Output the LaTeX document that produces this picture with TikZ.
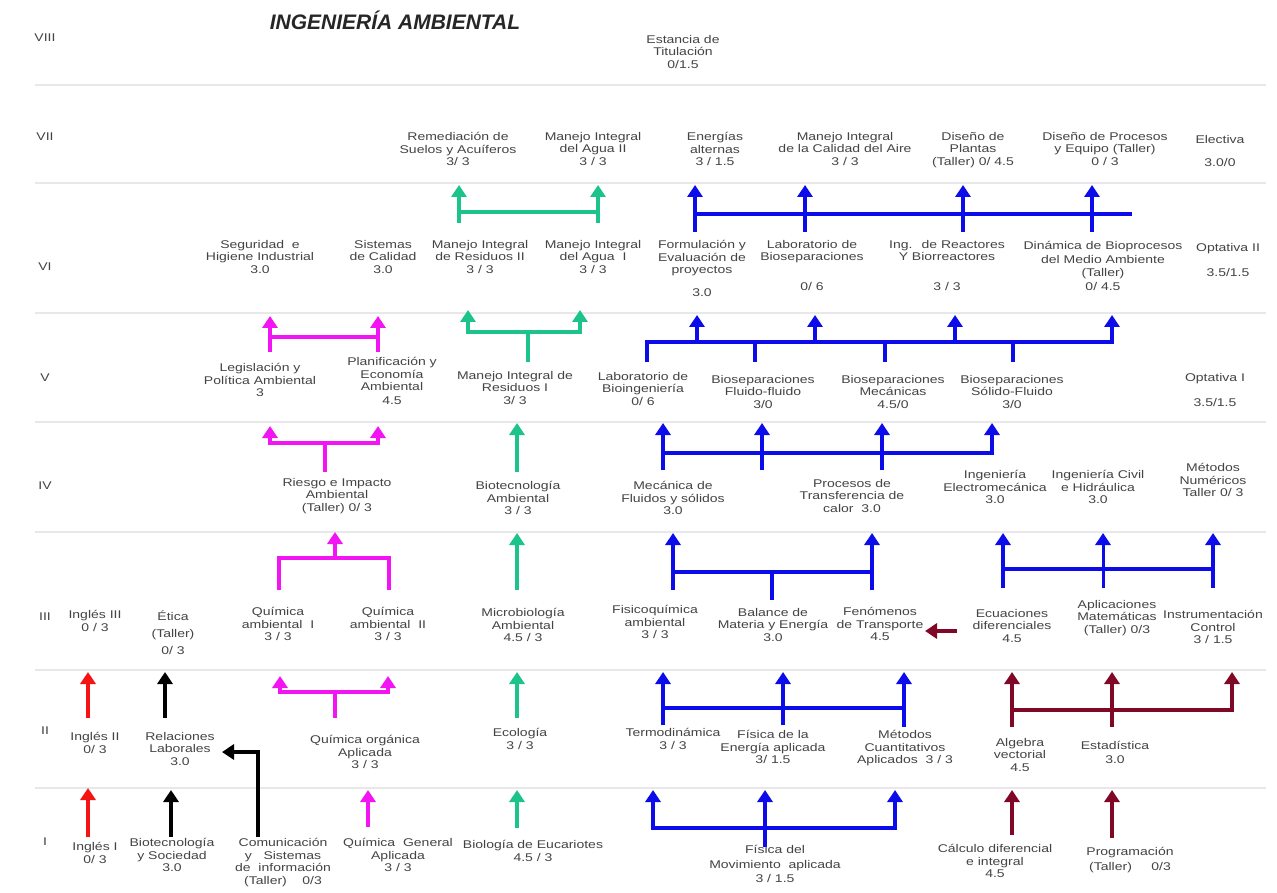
\documentclass[tikz,border=0pt]{standalone}
\usepackage{fontspec}
\setmainfont{Liberation Sans}[FakeStretch=1.25]
\newfontfamily\titlefont{Liberation Sans}
\usetikzlibrary{arrows.meta}
\definecolor{txt}{RGB}{68,68,68}
\definecolor{grn}{RGB}{28,196,140}
\definecolor{blu}{RGB}{12,12,235}
\definecolor{mag}{RGB}{242,20,242}
\definecolor{drd}{RGB}{128,8,38}
\definecolor{rd}{RGB}{245,20,20}
\definecolor{sepc}{RGB}{232,232,236}
\tikzset{
  >={Triangle[width=15pt,length=12pt]},
  lbl/.style={align=center, inner sep=0pt, anchor=north, text=txt,
    font=\fontsize{11.2}{12.6}\selectfont},
  sem/.style={inner sep=0pt, text=txt, font=\fontsize{11.2}{12.6}\selectfont},
  sepline/.style={draw=sepc, line width=2.5pt},
  bl/.style={draw=blu, line width=4.8pt},
  blt/.style={draw=blu, line width=3pt},
  gr/.style={draw=grn, line width=4.2pt},
  mg/.style={draw=mag, line width=4.2pt},
  dr/.style={draw=drd, line width=4.2pt},
  rr/.style={draw=rd, line width=3.6pt},
  bk/.style={draw=black, line width=3.6pt},
}
\begin{document}
\begin{tikzpicture}[x=1pt,y=-1pt]
\useasboundingbox (0,0) rectangle (1277,893);
\fill[white] (0,0) rectangle (1277,893);

% separators
\foreach \yy in {85,183,313,422,532,670,788}
  \draw[sepline] (35,\yy) -- (1266,\yy);

% title
\node[inner sep=0pt, font=\titlefont\fontsize{21}{23}\selectfont\bfseries\itshape, text=black!85] (title) at (395,20) {INGENIERÍA AMBIENTAL};

% semester numerals
\node[sem] (s8) at (45,38) {VIII};
\node[sem] (s7) at (45,137) {VII};
\node[sem] (s6) at (45,267) {VI};
\node[sem] (s5) at (45,378) {V};
\node[sem] (s4) at (45,486) {IV};
\node[sem] (s3) at (45,617) {III};
\node[sem] (s2) at (45,731) {II};
\node[sem] (s1) at (45,842) {I};

% VIII
\node[lbl] (est) at (683,35) {Estancia de\\Titulación\\0/1.5};

% VII
\node[lbl] (rem) at (458,132) {Remediación de\\Suelos y Acuíferos\\3/ 3};
\node[lbl] (agua2) at (593,132) {Manejo Integral\\del Agua II\\3 / 3};
\node[lbl] (ener) at (715,132) {Energías\\alternas\\3 / 1.5};
\node[lbl] (aire) at (845,132) {Manejo Integral\\de la Calidad del Aire\\3 / 3};
\node[lbl] (plant) at (973,132) {Diseño de\\Plantas\\(Taller) 0/ 4.5};
\node[lbl] (proc) at (1105,132) {Diseño de Procesos\\y Equipo (Taller)\\0 / 3};
\node[lbl] (elec) at (1220,135) {Electiva\\[11pt]3.0/0};

% VI
\node[lbl] (seg) at (260,240) {Seguridad \ e\\Higiene Industrial\\3.0};
\node[lbl] (sist) at (383,240) {Sistemas\\de Calidad\\3.0};
\node[lbl] (res2) at (480,240) {Manejo Integral\\de Residuos II\\3 / 3};
\node[lbl] (agua1) at (593,240) {Manejo Integral\\del Agua \ I\\3 / 3};
\node[lbl] (form) at (702,240) {Formulación y\\Evaluación de\\proyectos\\[10pt]3.0};
\node[lbl] (labbio) at (812,240) {Laboratorio de\\Bioseparaciones\\[17pt]0/ 6};
\node[lbl] (reac) at (947,240) {Ing. \ de Reactores\\Y Biorreactores\\[17pt]3 / 3};
\node[lbl] (dina) at (1103,241) {Dinámica de Bioprocesos\\[1pt]del Medio Ambiente\\[1pt](Taller)\\[1pt]0/ 4.5};
\node[lbl] (opt2) at (1228,243) {Optativa II\\[13pt]3.5/1.5};

% V
\node[lbl] (leg) at (260,363) {Legislación y\\Política Ambiental\\3};
\node[lbl] (plan) at (392,357) {Planificación y\\Economía\\Ambiental\\[1pt]4.5};
\node[lbl] (res1) at (515,371) {Manejo Integral de\\Residuos I\\3/ 3};
\node[lbl] (labing) at (643,372) {Laboratorio de\\Bioingeniería\\0/ 6};
\node[lbl] (bff) at (763,375) {Bioseparaciones\\Fluido-fluido\\3/0};
\node[lbl] (bmec) at (893,375) {Bioseparaciones\\Mecánicas\\4.5/0};
\node[lbl] (bsf) at (1012,375) {Bioseparaciones\\Sólido-Fluido\\3/0};
\node[lbl] (opt1) at (1215,373) {Optativa I\\[13pt]3.5/1.5};

% IV
\node[lbl] (riesgo) at (337,478) {Riesgo e Impacto\\Ambiental\\(Taller) 0/ 3};
\node[lbl] (biotec) at (518,481) {Biotecnología\\Ambiental\\3 / 3};
\node[lbl] (mec) at (673,481) {Mecánica de\\Fluidos y sólidos\\3.0};
\node[lbl] (trans) at (852,479) {Procesos de\\Transferencia de\\calor \ 3.0};
\node[lbl] (electro) at (995,470) {Ingeniería\\Electromecánica\\3.0};
\node[lbl] (civil) at (1098,470) {Ingeniería Civil\\e Hidráulica\\3.0};
\node[lbl] (numer) at (1213,463) {Métodos\\Numéricos\\Taller 0/ 3};

% III
\node[lbl] (ing3) at (95,610) {Inglés III\\0 / 3};
\node[lbl] (etica) at (173,611) {Ética\\[4pt](Taller)\\[4pt]0/ 3};
\node[lbl] (qa1) at (278,607) {Química\\ambiental \ I\\3 / 3};
\node[lbl] (qa2) at (388,607) {Química\\ambiental \ II\\3 / 3};
\node[lbl] (micro) at (523,608) {Microbiología\\Ambiental\\4.5 / 3};
\node[lbl] (fisq) at (655,605) {Fisicoquímica\\ambiental\\3 / 3};
\node[lbl] (bal) at (773,608) {Balance de\\Materia y Energía\\3.0};
\node[lbl] (feno) at (880,607) {Fenómenos\\de Transporte\\4.5};
\node[lbl] (ecua) at (1012,609) {Ecuaciones\\diferenciales\\4.5};
\node[lbl] (aplic) at (1117,600) {Aplicaciones\\Matemáticas\\(Taller) 0/3};
\node[lbl] (instr) at (1213,610) {Instrumentación\\Control\\3 / 1.5};

% II
\node[lbl] (ing2) at (95,732) {Inglés II\\0/ 3};
\node[lbl] (rel) at (180,732) {Relaciones\\Laborales\\3.0};
\node[lbl] (qorg) at (365,735) {Química orgánica\\Aplicada\\3 / 3};
\node[lbl] (eco) at (520,728) {Ecología\\3 / 3};
\node[lbl] (termo) at (673,728) {Termodinámica\\3 / 3};
\node[lbl] (fener) at (773,730) {Física de la\\Energía aplicada\\3/ 1.5};
\node[lbl] (mcuant) at (905,730) {Métodos\\Cuantitativos\\Aplicados \ 3 / 3};
\node[lbl] (alg) at (1020,738) {Algebra\\vectorial\\4.5};
\node[lbl] (est2) at (1115,741) {Estadística\\[1pt]3.0};

% I
\node[lbl] (ing1) at (95,842) {Inglés I\\0/ 3};
\node[lbl] (btsoc) at (172,838) {Biotecnología\\y Sociedad\\3.0};
\node[lbl] (com) at (283,838) {Comunicación\\y \ \ Sistemas\\de \ información\\(Taller) \ \ \ 0/3};
\node[lbl] (qgen) at (398,838) {Química \ General\\Aplicada\\3 / 3};
\node[lbl] (bioeu) at (533,840) {Biología de Eucariotes\\4.5 / 3};
\node[lbl] (fmov) at (775,845) {Física del\\[2pt]Movimiento \ aplicada\\[2pt]3 / 1.5};
\node[lbl] (calc) at (995,844) {Cálculo diferencial\\e integral\\4.5};
\node[lbl] (prog) at (1130,847) {Programación\\[2pt](Taller) \ \ \ \ 0/3};

% ===== connectors =====
% VI -> VII green
\draw[gr] (459,212) -- (598,212);
\draw[gr,->] (459,223) -- (459,185);
\draw[gr,->] (598,223) -- (598,185);
% VI -> VII blue
\draw[bl] (695,214) -- (1132,214);
\foreach \xx in {695,805,963,1092} \draw[bl,->] (\xx,232) -- (\xx,185);

% V -> VI magenta
\draw[mg] (270,337) -- (378,337);
\draw[mg,->] (270,352) -- (270,316);
\draw[mg,->] (378,352) -- (378,316);
% V -> VI green
\draw[gr] (528,362) -- (528,332);
\draw[gr,<->] (468,310) -- (468,332) -- (580,332) -- (580,310);
% V -> VI blue
\draw[bl,->] (647,362) -- (647,342) -- (1112,342) -- (1112,315);
\foreach \xx in {697,815,955} \draw[bl,->] (\xx,342) -- (\xx,315);
\foreach \xx in {755,885,1013} \draw[bl] (\xx,342) -- (\xx,362);

% IV -> V magenta
\draw[mg] (325,472) -- (325,443);
\draw[mg,<->] (270,426) -- (270,443) -- (378,443) -- (378,426);
% IV -> V green
\draw[gr,->] (517,472) -- (517,423);
% IV -> V blue
\draw[bl,->] (663,470) -- (663,423);
\draw[bl,->] (762,470) -- (762,423);
\draw[bl,->] (882,470) -- (882,423);
\draw[bl,->] (663,453) -- (992,453) -- (992,423);

% III -> IV magenta
\draw[mg] (279,590) -- (279,558) -- (389,558) -- (389,590);
\draw[mg,->] (335,558) -- (335,532);
% III -> IV green
\draw[gr,->] (517,590) -- (517,533);
% III -> IV blue left
\draw[bl] (673,572) -- (872,572);
\draw[bl,->] (673,590) -- (673,533);
\draw[bl,->] (872,590) -- (872,533);
\draw[bl] (772,572) -- (772,600);
% III -> IV blue right
\draw[bl] (1003,569) -- (1213,569);
\draw[bl,->] (1003,588) -- (1003,533);
\draw[blt,->] (1103,588) -- (1103,533);
\draw[bl,->] (1213,588) -- (1213,533);

% III internal
\draw[dr,->] (957,631) -- (925,631);

% II -> III
\draw[rr,->] (88,718) -- (88,672);
\draw[bk,->] (165,718) -- (165,672);
\draw[mg] (335,718) -- (335,692);
\draw[mg,<->] (280,676) -- (280,692) -- (388,692) -- (388,676);
\draw[gr,->] (517,718) -- (517,672);
\draw[bl] (663,708) -- (904,708);
\draw[bl,->] (663,725) -- (663,672);
\draw[bl,->] (783,725) -- (783,672);
\draw[bl,->] (904,727) -- (904,672);
\draw[dr,->] (1012,727) -- (1012,672);
\draw[dr,->] (1112,727) -- (1112,672);
\draw[dr,->] (1012,710) -- (1232,710) -- (1232,672);

% I -> II
\draw[rr,->] (88,837) -- (88,788);
\draw[bk,->] (171,837) -- (171,790);
\draw[bk,->] (258,837) -- (258,752) -- (222,752);
\draw[mg,->] (368,827) -- (368,790);
\draw[gr,->] (517,828) -- (517,790);
\draw[bl,<->] (653,790) -- (653,828) -- (895,828) -- (895,790);
\draw[bl,->] (765,847) -- (765,790);
\draw[dr,->] (1012,835) -- (1012,790);
\draw[dr,->] (1112,838) -- (1112,790);
\end{tikzpicture}
\end{document}
